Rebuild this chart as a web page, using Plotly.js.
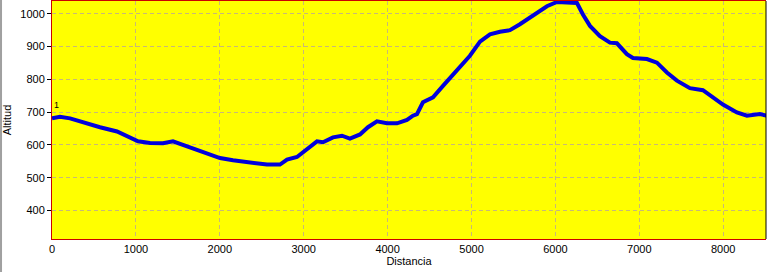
<!DOCTYPE html>
<html>
<head>
<meta charset="utf-8">
<script src="https://cdn.plot.ly/plotly-3.0.1.min.js"></script>
<style>
html,body{margin:0;padding:0;background:#fff;}
#chart{width:768px;height:272px;}
</style>
</head>
<body>
<div id="chart"></div>
<script>
const distancia = [0, 95, 215, 369, 572, 775, 894, 1025, 1168, 1323, 1442, 1561, 1764, 2002, 2157, 2324, 2395, 2562, 2717, 2801, 2920, 3039, 3158, 3230, 3349, 3456, 3551, 3671, 3766, 3873, 3992, 4112, 4231, 4302, 4350, 4421, 4541, 4660, 4743, 4862, 4981, 5101, 5220, 5339, 5458, 5577, 5732, 5899, 6018, 6173, 6257, 6328, 6412, 6531, 6650, 6733, 6852, 6924, 7091, 7210, 7329, 7448, 7603, 7758, 7878, 7997, 8163, 8283, 8437, 8521];
const altitud = [681, 686, 681, 669, 654, 641, 626, 611, 606, 605, 611, 600, 583, 560, 553, 548, 543, 540, 540, 555, 563, 588, 611, 608, 623, 628, 619, 632, 654, 672, 666, 666, 676, 689, 694, 730, 745, 780, 804, 838, 872, 915, 937, 945, 950, 968, 993, 1023, 1036, 1036, 1033, 998, 963, 932, 912, 910, 877, 865, 862, 851, 821, 796, 773, 767, 745, 723, 699, 689, 694, 689];
const yTicks = [400, 500, 600, 700, 800, 900, 1000];
const xTicks = [0, 1000, 2000, 3000, 4000, 5000, 6000, 7000, 8000];
const pointLabel = {text: '1', x: 0, y: 723};

const trace = {
  x: distancia, y: altitud, type: 'scatter', mode: 'lines',
  line: {color: '#0000dd', width: 4}, hoverinfo: 'none', cliponaxis: true
};

const font = {family: 'Liberation Sans, Arial, sans-serif', size: 11, color: '#000'};

const layout = {
  width: 768, height: 272,
  margin: {l: 52, r: 2, t: 1, b: 33, pad: 0},
  paper_bgcolor: '#ffffff', plot_bgcolor: '#ffff00',
  showlegend: false, font: font,
  xaxis: {
    range: [0, 8510], tickvals: xTicks, ticktext: xTicks.map(String),
    showgrid: true, gridcolor: '#c8b878', griddash: '4px,3px', gridwidth: 1,
    showline: true, linecolor: '#cc0000', linewidth: 1, mirror: true,
    ticks: '', zeroline: false, tickfont: font,
    title: {text: 'Distancia', font: font, standoff: 2}
  },
  yaxis: {
    range: [313, 1039], tickvals: yTicks, ticktext: yTicks.map(String),
    showgrid: true, gridcolor: '#c8b878', griddash: '4px,3px', gridwidth: 1,
    showline: true, linecolor: '#cc0000', linewidth: 1,
    ticks: 'outside', ticklen: 4, tickcolor: '#000', tickwidth: 1,
    zeroline: false, tickfont: font,
    title: {text: 'Altitud', font: font, standoff: 6}
  },
  shapes: [
    {type: 'line', xref: 'paper', yref: 'paper', x0: 1, x1: 1, y0: 0, y1: 1,
     line: {color: '#000000', width: 1}},
    {type: 'line', xref: 'paper', yref: 'paper', x0: -0.0714, x1: -0.0714, y0: -0.14, y1: 1.01,
     line: {color: '#a0a0a0', width: 2}}
  ],
  annotations: [
    {text: pointLabel.text, x: pointLabel.x, y: pointLabel.y, xref: 'x', yref: 'y',
     showarrow: false, xanchor: 'left', yanchor: 'middle', xshift: 0,
     font: {family: 'Liberation Sans, Arial, sans-serif', size: 9, color: '#000'}}
  ]
};

Plotly.newPlot('chart', [trace], layout, {staticPlot: true, displayModeBar: false});
</script>
</body>
</html>
